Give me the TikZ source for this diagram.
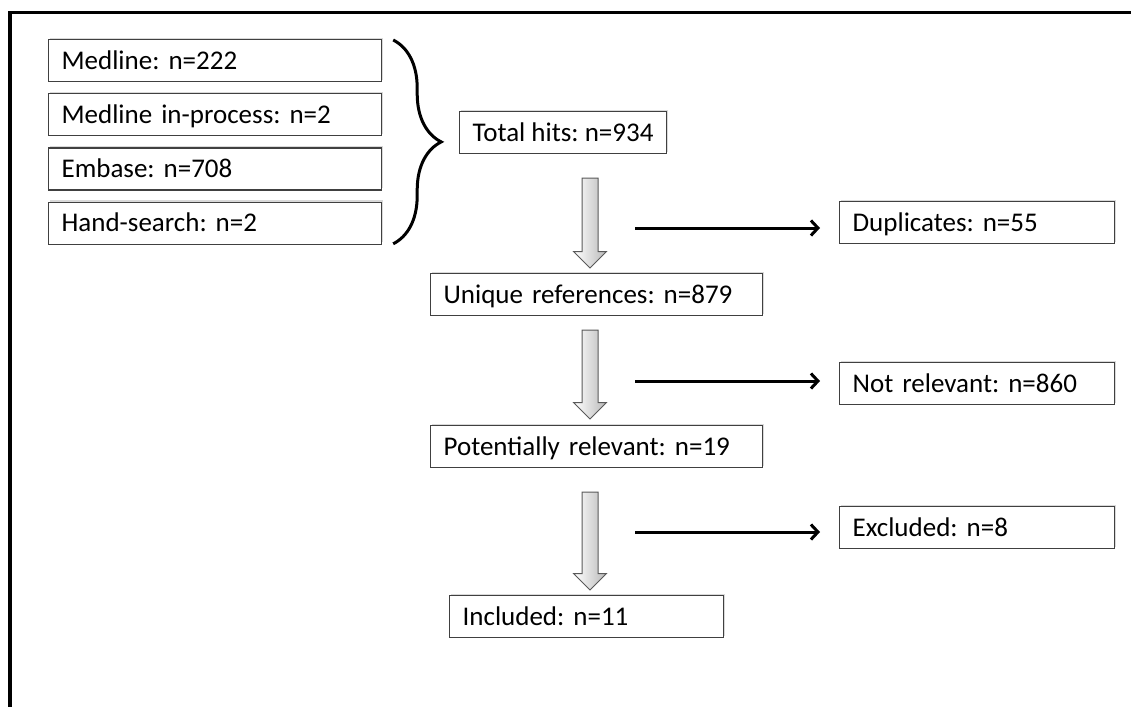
\documentclass[tikz,border=0pt]{standalone}
\usepackage{fontspec}
\setmainfont{Carlito}
\usetikzlibrary{positioning, calc, arrows.meta, decorations.pathreplacing, shapes.arrows, shadows}

\begin{document}
\frenchspacing
\begin{tikzpicture}[x=1pt, y=-1pt, node distance=11pt,
    box/.style={draw=black!75, line width=1.2pt, fill=white, anchor=north west,
      minimum height=42pt, inner xsep=13pt, inner ysep=0pt, align=left,
      text height=17pt, text depth=0pt, font=\fontsize{27}{30}\selectfont,
      drop shadow={shadow xshift=1.5pt, shadow yshift=2pt, opacity=0.3}},
    grayarrow/.style={single arrow, draw=black!65, line width=1pt,
      left color=white, right color=gray!55, inner xsep=0pt, inner ysep=7.5pt,
      text height=0pt, text depth=0pt, single arrow head extend=8.5pt, rotate=-90},
    flow/.style={-{Straight Barb[length=7pt, width=15pt]}, line width=3pt, shorten >=19pt}]

  \useasboundingbox (0,0) rectangle (1131,706);
  \draw[line width=3.5pt] (10,712) -- (10,12.5) -- (1136,12.5);

  % Sources of the search.
  \node[box, text width=307pt] (med) at (48,39) {Medline: n=222};
  \node[box, text width=307pt, below=of med] (inproc) {Medline in-process: n=2};
  \node[box, text width=307pt, below=of inproc] (emb) {Embase: n=708};
  \node[box, text width=307pt, below=of emb] (hand) {Hand-search: n=2};

  % Main flow and removed records.
  \node[box] (tot) at (459,111) {Total hits: n=934};
  \node[box, text width=306pt] (uniq) at (430,273) {Unique references: n=879};
  \node[box, text width=306pt] (pot) at (430,425) {Potentially relevant: n=19};
  \node[box, text width=248pt] (inc) at (449,595) {Included: n=11};
  \node[box, text width=249pt] (dup) at (839,201) {Duplicates: n=55};
  \node[box, text width=249pt] (notrel) at (839,362) {Not relevant: n=860};
  \node[box, text width=249pt] (excl) at (839,506) {Excluded: n=8};

  \node[grayarrow, minimum height=90pt] (a1) at (590,219) {};
  \node[grayarrow, minimum height=89pt] (a2) at (590,370.5) {};
  \node[grayarrow, minimum height=98pt] (a3) at (590,537) {};

  \coordinate (s1) at (635,228);
  \coordinate (s2) at (635,381);
  \coordinate (s3) at (635,532);

  \draw[decorate, decoration={brace, amplitude=48pt}, line width=3pt]
    ($(med.north east)+(11,1)$) -- ($(hand.south east)+(11,-1)$);
  \draw[flow] (s1) -- (s1 -| dup.west);
  \draw[flow] (s2) -- (s2 -| notrel.west);
  \draw[flow] (s3) -- (s3 -| excl.west);
\end{tikzpicture}
\end{document}
